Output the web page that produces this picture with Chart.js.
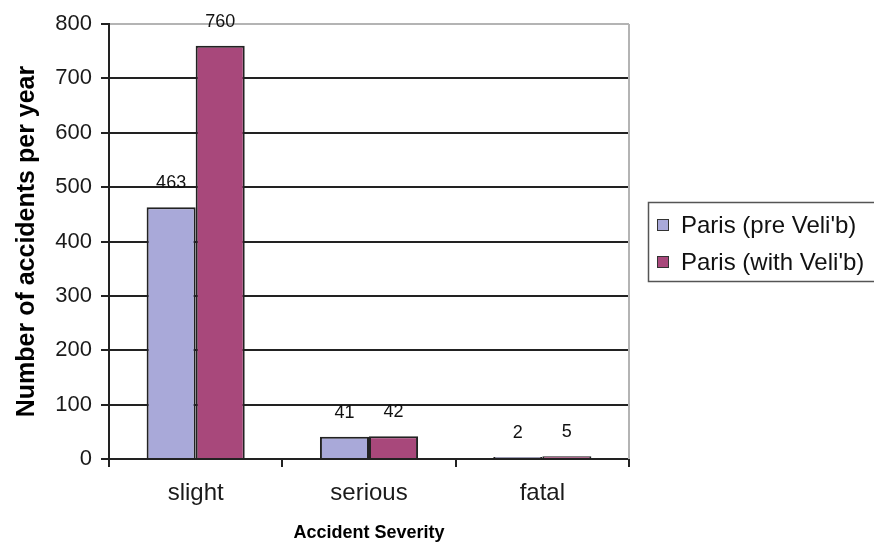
<!DOCTYPE html>
<html>
<head>
<meta charset="utf-8">
<script src="https://cdn.jsdelivr.net/npm/chart.js@4/dist/chart.umd.min.js"></script>
<style>
html,body{margin:0;padding:0;background:#fff;}
#c{display:block;}
</style>
</head>
<body>
<canvas id="c" width="874" height="544"></canvas>
<script>
const categories = ['slight', 'serious', 'fatal'];
const preVelib = [463, 41, 2];
const withVelib = [760, 42, 5];
const seriesLabels = ["Paris (pre Veli'b)", "Paris (with Veli'b)"];
const yMin = 0;
const yMax = 800;
const yStep = 100;
const xTitle = 'Accident Severity';
const yTitle = 'Number of accidents per year';

const colors = ['#a9a9d9', '#a8487b'];
const FONT = "'Liberation Sans', Arial, sans-serif";

const valueLabels = {
  id: 'valueLabels',
  afterDatasetsDraw(chart) {
    const ctx = chart.ctx;
    ctx.save();
    ctx.font = "18px " + FONT;
    ctx.fillStyle = '#111';
    ctx.textAlign = 'center';
    ctx.textBaseline = 'middle';
    chart.data.datasets.forEach((ds, i) => {
      const meta = chart.getDatasetMeta(i);
      meta.data.forEach((bar, j) => {
        ctx.fillText(String(ds.data[j]), bar.x, bar.y - 24);
      });
    });
    ctx.restore();
  }
};

const frameAndLegend = {
  id: 'frameAndLegend',
  beforeDatasetsDraw(chart) {
    const {ctx, chartArea: a} = chart;
    ctx.save();
    ctx.strokeStyle = '#b4b4b4';
    ctx.lineWidth = 2;
    ctx.beginPath();
    ctx.moveTo(a.right, a.top);
    ctx.lineTo(a.right, a.bottom);
    ctx.stroke();
    ctx.restore();
  },
  afterDraw(chart) {
    const ctx = chart.ctx;
    ctx.save();
    ctx.strokeStyle = '#555';
    ctx.lineWidth = 1.5;
    ctx.strokeRect(648.5, 202.5, 250, 79);
    ctx.font = "24px " + FONT;
    ctx.textAlign = 'left';
    ctx.textBaseline = 'middle';
    chart.data.datasets.forEach((ds, i) => {
      const cy = 225 + i * 37;
      ctx.fillStyle = ds.backgroundColor;
      ctx.fillRect(657, cy - 6, 12, 12);
      ctx.strokeStyle = '#333';
      ctx.lineWidth = 1;
      ctx.strokeRect(657.5, cy - 5.5, 11, 11);
      ctx.fillStyle = '#111';
      ctx.fillText(ds.label, 681, cy + 1);
    });
    ctx.restore();
  }
};

new Chart(document.getElementById('c'), {
  type: 'bar',
  data: {
    labels: categories,
    datasets: [
      { label: seriesLabels[0], data: preVelib, backgroundColor: colors[0], borderColor: '#222', borderWidth: 2, borderSkipped: 'bottom', minBarLength: 2 },
      { label: seriesLabels[1], data: withVelib, backgroundColor: colors[1], borderColor: '#222', borderWidth: 2, borderSkipped: 'bottom', minBarLength: 2 }
    ]
  },
  options: {
    responsive: false,
    animation: false,
    devicePixelRatio: 1,
    layout: { padding: { top: 24, right: 245, left: 0, bottom: 0 } },
    datasets: { bar: { categoryPercentage: 0.566, barPercentage: 1.0 } },
    plugins: { legend: { display: false }, tooltip: { enabled: false } },
    scales: {
      x: {
        offset: true,
        grid: { display: true, drawOnChartArea: false, offset: true, tickLength: 8, tickColor: '#222', lineWidth: 2 },
        border: { display: true, color: '#222', width: 2 },
        ticks: { color: '#1a1a1a', font: { family: FONT, size: 24 }, padding: 12 },
        title: { display: true, text: xTitle, color: '#000', font: { family: FONT, size: 18, weight: 'bold' }, padding: { top: 0, bottom: 0 } },
        afterFit(scale) { scale.height = 85; }
      },
      y: {
        min: yMin,
        max: yMax,
        ticks: { stepSize: yStep, color: '#1a1a1a', font: { family: FONT, size: 22 }, padding: 9 },
        grid: {
          color: (c) => (c.tick && c.tick.value === yMax ? '#b4b4b4' : '#222'),
          lineWidth: 2,
          tickLength: 8,
          tickColor: '#222'
        },
        border: { display: true, color: '#222', width: 2 },
        title: { display: true, text: yTitle, color: '#000', font: { family: FONT, size: 25, weight: 'bold' }, padding: { top: 12, bottom: 0 } },
        afterFit(scale) { scale.width = 109; }
      }
    }
  },
  plugins: [frameAndLegend, valueLabels]
});
</script>
</body>
</html>
